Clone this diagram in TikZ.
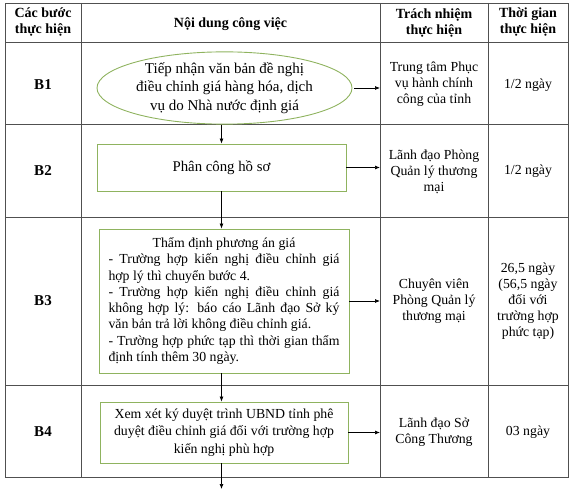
\documentclass[tikz,border=0pt]{standalone}
\usepackage{fontspec}
\setmainfont{Liberation Serif}
\usetikzlibrary{arrows.meta,shapes.geometric}
\definecolor{boxgreen}{HTML}{8FB35F}
\definecolor{gridgray}{HTML}{505050}
\tikzset{
  grid/.style={draw=gridgray,line width=0.9pt},
  txt/.style={align=center,inner sep=0pt,font=\fontsize{13.8}{16}\selectfont},
  hdr/.style={txt,font=\fontsize{14}{16}\selectfont\bfseries},
  lbl/.style={txt,font=\fontsize{15}{16}\selectfont\bfseries},
  stepbox/.style={draw=boxgreen,line width=0.9pt,rectangle,inner sep=0pt,align=center,font=\fontsize{13.8}{16.3}\selectfont},
  flow/.style={-{Latex[length=5pt,width=4pt]},line width=0.7pt,black},
}
\newcommand{\jline}[1]{\makebox[231pt][s]{#1}}
\newcommand{\lline}[1]{\makebox[231pt][l]{#1}}
\begin{document}
\begin{tikzpicture}[x=1pt,y=-1pt]
\useasboundingbox (0,0) rectangle (575,494);
% table grid
\draw[grid] (5,3) rectangle (568,477);
\foreach \yy in {42,124,217,385} \draw[grid] (5,\yy) -- (568,\yy);
\foreach \xx in {81,380,488} \draw[grid] (\xx,3) -- (\xx,477);
% header
\node[hdr] (h0) at (43,22.5) {Các bước\\thực hiện};
\node[hdr] (h1) at (230.5,24) {Nội dung công việc};
\node[hdr] (h2) at (434,22.5) {Trách nhiệm\\thực hiện};
\node[hdr] (h3) at (528,22.5) {Thời gian\\thực hiện};
% step labels
\node[lbl] (l1) at (43,85) {B1};
\node[lbl] (l2) at (43,171) {B2};
\node[lbl] (l3) at (43,301) {B3};
\node[lbl] (l4) at (43,432) {B4};
% flow shapes
\node[stepbox,ellipse,minimum width=255pt,minimum height=70pt,font=\fontsize{15}{18.5}\selectfont] (s1) at (224.5,88)
  {Tiếp nhận văn bản đề nghị\\điều chỉnh giá hàng hóa, dịch\\vụ do Nhà nước định giá};
\node[stepbox,minimum width=249pt,minimum height=47pt,font=\fontsize{14.8}{17}\selectfont] (s2) at (221.5,167.5) {Phân công hồ sơ};
\node[stepbox,minimum width=250pt,minimum height=144pt] (s3) at (224,301)
  {Thẩm định phương án giá\\
   \jline{- Trường hợp kiến nghị điều chỉnh giá}\\
   \lline{hợp lý thì chuyển bước 4.}\\
   \jline{- Trường hợp kiến nghị điều chỉnh giá}\\
   \jline{không hợp lý: báo cáo Lãnh đạo Sở ký}\\
   \lline{văn bản trả lời không điều chỉnh giá.}\\
   \jline{- Trường hợp phức tạp thì thời gian thẩm}\\
   \lline{định tính thêm 30 ngày.}};
\node[stepbox,minimum width=248pt,minimum height=61pt,font=\fontsize{13.8}{17.5}\selectfont] (s4) at (224,432.5)
  {Xem xét ký duyệt trình UBND tỉnh phê\\duyệt điều chỉnh giá đối với trường hợp\\kiến nghị phù hợp};
% responsibility
\node[txt] (r1) at (434,84) {Trung tâm Phục\\vụ hành chính\\công của tỉnh};
\node[txt] (r2) at (434,172) {Lãnh đạo Phòng\\Quản lý thương\\mại};
\node[txt] (r3) at (434,301.5) {Chuyên viên\\Phòng Quản lý\\thương mại};
\node[txt] (r4) at (434,432) {Lãnh đạo Sở\\Công Thương};
% time
\node[txt] (t1) at (528,85) {1/2 ngày};
\node[txt] (t2) at (528,171) {1/2 ngày};
\node[txt] (t3) at (528,301) {26,5 ngày\\(56,5 ngày\\đối với\\trường hợp\\phức tạp)};
\node[txt] (t4) at (528,432) {03 ngày};
% connectors
\coordinate (col) at (380,0);
\coordinate (endp) at (222.5,489);
\draw[flow] ([xshift=2pt]s1.east) -- (s1.east -| col);
\draw[flow] (s2.east) -- (s2.east -| col);
\draw[flow] (s3.east) -- (s3.east -| col);
\draw[flow] (s4.east) -- (s4.east -| col);
\draw[flow] (s1.south -| s2.south) -- (s2.north);
\draw[flow] (s2.south) -- (s2.south |- s3.north);
\draw[flow] (s3.south -| s2.south) -- (s2.south |- s4.north);
\draw[flow] (s4.south -| s2.south) -- (endp -| s2.south);
\end{tikzpicture}
\end{document}
